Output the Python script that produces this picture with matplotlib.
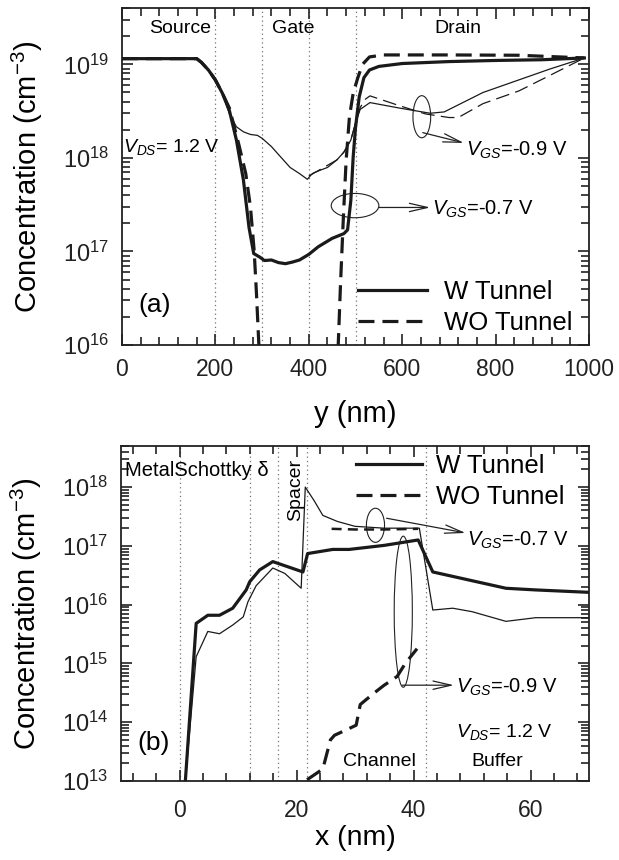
import numpy as np
import matplotlib
matplotlib.use("Agg")
import matplotlib.pyplot as plt
from matplotlib.patches import Ellipse
from matplotlib.ticker import MultipleLocator, LogLocator, NullFormatter

plt.rcParams["font.family"] = ["Liberation Sans", "DejaVu Sans"]
plt.rcParams["mathtext.fontset"] = "custom"
plt.rcParams["mathtext.rm"] = "Liberation Sans"
plt.rcParams["mathtext.it"] = "Liberation Sans:italic"
plt.rcParams["mathtext.sf"] = "Liberation Sans"

# ---- panel (a): concentration along y, V_DS = 1.2 V ----
y_w07 = [0, 160, 170, 185, 200, 215, 230, 245, 260, 272, 282, 295, 305, 320, 335, 350,
         365, 380, 400, 420, 450, 475, 483, 490, 495, 500, 508, 518, 530, 550, 600, 700,
         800, 900, 990]
c_w07 = [1.15e19, 1.15e19, 1.05e19, 8.7e18, 6.8e18, 4.9e18, 3.2e18, 1.55e18, 5.8e17,
         1.8e17, 9.5e16, 8.7e16, 8.0e16, 8.1e16, 7.6e16, 7.4e16, 7.7e16, 8.1e16, 9.3e16,
         1.12e17, 1.38e17, 1.55e17, 1.7e17, 3.5e17, 1.02e18, 2.1e18, 4.5e18, 7.2e18,
         8.7e18, 9.5e18, 1.02e19, 1.07e19, 1.1e19, 1.12e19, 1.17e19]

y_wo07 = [0, 160, 170, 185, 200, 215, 230, 250, 265, 275, 283, 288, 292, 296, 460, 463,
          468, 474, 480, 487, 495, 505, 515, 530, 560, 700, 850, 990]
c_wo07 = [1.15e19, 1.15e19, 1.05e19, 8.7e18, 6.8e18, 4.9e18, 3.4e18, 1.4e18, 6.8e17,
          3.0e17, 1.02e17, 3.5e16, 1.3e16, 5e15, 5e15, 1.0e16, 4.6e16, 2.3e17, 9.5e17,
          2.75e18, 4.9e18, 7.2e18, 1.0e19, 1.2e19, 1.26e19, 1.26e19, 1.25e19, 1.17e19]

y_w09 = [0, 160, 170, 185, 200, 215, 230, 245, 260, 275, 290, 300, 320, 340, 360, 380,
         397, 405, 410, 425, 440, 460, 475, 490, 500, 510, 531, 595, 660, 690, 773, 916,
         990]
c_w09 = [1.15e19, 1.15e19, 1.05e19, 8.7e18, 6.8e18, 4.9e18, 2.95e18, 2.15e18, 1.9e18,
         1.78e18, 1.74e18, 1.62e18, 1.32e18, 1.02e18, 7.9e17, 6.8e17, 5.9e17, 6.6e17,
         6.9e17, 7.4e17, 7.9e17, 9.5e17, 1.15e18, 1.55e18, 2.35e18, 3.3e18, 3.9e18,
         3.4e18, 3.0e18, 3.1e18, 5.0e18, 8.9e18, 1.17e19]

y_wo09 = [400, 460, 475, 490, 500, 510, 520, 531, 595, 650, 700, 720, 773, 850, 916, 990]
c_wo09 = [6.4e17, 9.5e17, 1.15e18, 1.55e18, 2.35e18, 3.45e18, 4.2e18, 4.6e18, 3.6e18,
          2.95e18, 2.7e18, 2.7e18, 3.8e18, 5.2e18, 7.6e18, 1.17e19]

regions_a = [200, 300, 400, 500]

# ---- panel (b): concentration along x ----
x_thick = [1.0, 2.85, 4.84, 6.84, 9.1, 11.4, 12.0, 13.7, 15.95, 21.1, 21.9, 26.2, 29.0,
           35.0, 40.8, 43.3, 55.8, 60.9, 70.0]
c_thick = [1.0e13, 4.8e15, 6.6e15, 6.6e15, 8.7e15, 1.78e16, 2.45e16, 3.9e16, 5.4e16,
           3.6e16, 7.4e16, 8.7e16, 8.7e16, 1.02e17, 1.26e17, 3.6e16, 1.9e16, 1.78e16,
           1.62e16]

x_thin = [1.0, 2.85, 4.84, 6.84, 9.1, 10.9, 11.7, 13.1, 15.95, 18.0, 20.8, 21.5, 23.0,
          24.5, 27.0, 30.0, 35.0, 41.0, 43.3, 46.7, 50.0, 55.8, 60.9, 70.0]
c_thin = [1.0e13, 1.3e15, 3.5e15, 3.2e15, 4.5e15, 6.2e15, 1.12e16, 2.1e16, 4.2e16,
          3.4e16, 1.9e16, 1.0e18, 5.9e17, 3.3e17, 2.6e17, 2.15e17, 2.0e17, 2.0e17,
          8.1e15, 8.7e15, 7.6e15, 5.2e15, 6.0e15, 6.0e15]

x_wo07 = [26.0, 30.0, 35.0, 40.8]
c_wo07b = [1.95e17, 1.9e17, 1.9e17, 1.95e17]

x_wo09 = [21.8, 24.5, 25.8, 26.5, 28.5, 30.2, 30.9, 33.2, 34.9, 37.2, 38.6, 40.6]
c_wo09b = [1.05e13, 1.6e13, 5.0e13, 6.0e13, 7.4e13, 8.9e13, 2.0e14, 3.1e14, 4.2e14,
           6.0e14, 1.0e15, 1.78e15]

regions_b = [0, 12, 16.8, 21.8, 42.2]

THICK = 2.3
THIN = 0.9


def style(ax, xmaj, xmin, xpad):
    ax.set_yscale("log")
    ax.xaxis.set_major_locator(MultipleLocator(xmaj))
    ax.xaxis.set_minor_locator(MultipleLocator(xmin))
    ax.yaxis.set_major_locator(LogLocator(base=10, numticks=20))
    ax.yaxis.set_minor_locator(LogLocator(base=10, subs=np.arange(2, 10), numticks=20))
    ax.yaxis.set_minor_formatter(NullFormatter())
    ax.tick_params(which="both", direction="in", top=True, right=True, width=1.2,
                   colors="#222222")
    ax.tick_params(which="major", length=8)
    ax.tick_params(which="minor", length=6)
    ax.tick_params(axis="x", which="major", labelsize=16.5, pad=xpad)
    ax.tick_params(axis="y", which="major", labelsize=17, pad=9)
    for s in ax.spines.values():
        s.set_linewidth(1.3)
        s.set_color("#222222")


def afrac(ax, x, y):
    # data point -> axes fraction (log y)
    x0, x1 = ax.get_xlim()
    y0, y1 = np.log10(ax.get_ylim())
    return (x - x0) / (x1 - x0), (np.log10(y) - y0) / (y1 - y0)


def ellipse(ax, x, y, w, decades):
    fx, fy = afrac(ax, x, y)
    x0, x1 = ax.get_xlim()
    y0, y1 = np.log10(ax.get_ylim())
    e = Ellipse((fx, fy), w / (x1 - x0), decades / (y1 - y0), transform=ax.transAxes,
                fill=False, lw=0.8, ec="#222222")
    ax.add_patch(e)


def arrow(ax, start, tip, label, text_y, fs=14.5):
    ax.annotate("", xy=tip, xytext=start,
                arrowprops=dict(arrowstyle="->,head_length=1.3,head_width=0.3",
                                lw=0.9, color="#222222", shrinkA=0, shrinkB=0))
    ax.text(tip[0] + (ax.get_xlim()[1] - ax.get_xlim()[0]) * 0.004, text_y, label,
            fontsize=fs, ha="left", va="center")


fig = plt.figure(figsize=(6.19, 8.6), dpi=100)
ax1 = fig.add_axes([122 / 619, 1 - 345 / 860, 467 / 619, 337 / 860])
ax2 = fig.add_axes([121 / 619, 1 - 781 / 860, 468 / 619, 335 / 860])

# panel (a)
style(ax1, 200, 40, 9)
ax1.set_xlim(0, 1000)
ax1.set_ylim(1e16, 4e19)
for xr in regions_a:
    ax1.axvline(xr, color="0.45", ls=(0, (1, 2.5)), lw=0.9, zorder=1)
ax1.plot(y_w07, c_w07, "-", color="#1a1a1a", lw=THICK, zorder=3)
ax1.plot(y_wo07, c_wo07, color="#1a1a1a", lw=THICK, dashes=(5, 2.5), zorder=3)
ax1.plot(y_w09, c_w09, "-", color="#1a1a1a", lw=THIN, zorder=3)
ax1.plot(y_wo09, c_wo09, color="#1a1a1a", lw=THIN, dashes=(11, 5), zorder=3)

ax1.text(124, 10 ** 19.38, "Source", fontsize=14, ha="center", va="center")
ax1.text(366, 10 ** 19.38, "Gate", fontsize=14, ha="center", va="center")
ax1.text(719, 10 ** 19.38, "Drain", fontsize=14, ha="center", va="center")
ax1.text(2, 10 ** 18.12, r"$V_{DS}$= 1.2 V", fontsize=14, ha="left", va="center")
ax1.text(35, 10 ** 16.43, "(a)", fontsize=19, ha="left", va="center")

ellipse(ax1, 642, 10 ** 18.44, 38, 0.45)
arrow(ax1, (644, 10 ** 18.27), (732, 10 ** 18.16), r"$V_{GS}$=-0.9 V", 10 ** 18.08)
ellipse(ax1, 499, 10 ** 17.49, 102, 0.26)
arrow(ax1, (550, 10 ** 17.47), (660, 10 ** 17.47), r"$V_{GS}$=-0.7 V", 10 ** 17.45)

h1, = ax1.plot([], [], "-", color="#1a1a1a", lw=THICK)
h2, = ax1.plot([], [], color="#1a1a1a", lw=THICK, dashes=(5, 2.5))
ax1.legend([h1, h2], ["W Tunnel", "WO Tunnel"], loc="lower left",
           bbox_to_anchor=(0.505, 0.03), frameon=False, fontsize=18.5,
           handlelength=2.7, handletextpad=0.65, labelspacing=0.25,
           borderpad=0, borderaxespad=0)

ax1.set_xlabel("y (nm)", fontsize=21, labelpad=14)
ax1.set_ylabel("Concentration (cm$^{-3}$)", fontsize=21)
ax1.yaxis.set_label_coords(-0.165, 0.5)

# panel (b)
style(ax2, 20, 4, 13)
ax2.set_xlim(-10, 70)
ax2.set_ylim(1e13, 5e18)
for xr in regions_b:
    ax2.axvline(xr, color="0.45", ls=(0, (1, 2.5)), lw=0.9, zorder=1)
ax2.plot(x_thick, c_thick, "-", color="#1a1a1a", lw=THICK, zorder=3)
ax2.plot(x_thin, c_thin, "-", color="#1a1a1a", lw=THIN, zorder=3)
ax2.plot(x_wo07, c_wo07b, color="#1a1a1a", lw=1.8, dashes=(4, 2.5), zorder=3)
ax2.plot(x_wo09, c_wo09b, color="#1a1a1a", lw=THICK, dashes=(5, 2.5), zorder=3)

ax2.text(-9.3, 10 ** 18.28, "MetalSchottky δ", fontsize=14.5, ha="left", va="center")
ax2.text(19.9, 10 ** 17.95, "Spacer", fontsize=14, rotation=90, ha="center", va="center")
ax2.text(34.1, 10 ** 13.33, "Channel", fontsize=14, ha="center", va="center")
ax2.text(54.4, 10 ** 13.33, "Buffer", fontsize=14, ha="center", va="center")
ax2.text(47.3, 10 ** 13.84, r"$V_{DS}$= 1.2 V", fontsize=14, ha="left", va="center")
ax2.text(-7.2, 10 ** 13.64, "(b)", fontsize=19, ha="left", va="center")

ellipse(ax2, 33.5, 10 ** 17.35, 3.1, 0.58)
arrow(ax2, (35.4, 10 ** 17.47), (48.9, 10 ** 17.22), r"$V_{GS}$=-0.7 V", 10 ** 17.1)
ellipse(ax2, 38.25, 10 ** 15.88, 3.1, 2.57)
arrow(ax2, (38.1, 10 ** 14.63), (46.9, 10 ** 14.63), r"$V_{GS}$=-0.9 V", 10 ** 14.6)

ax2.legend([h1, h2], ["W Tunnel", "WO Tunnel"], loc="upper left",
           bbox_to_anchor=(0.503, 0.975), frameon=False, fontsize=18.5,
           handlelength=2.55, handletextpad=0.55, labelspacing=0.25,
           borderpad=0, borderaxespad=0)

ax2.set_xlabel("x (nm)", fontsize=20.5, labelpad=2)
ax2.set_ylabel("Concentration (cm$^{-3}$)", fontsize=21)
ax2.yaxis.set_label_coords(-0.165, 0.5)

fig.savefig("out.png", dpi=100)
